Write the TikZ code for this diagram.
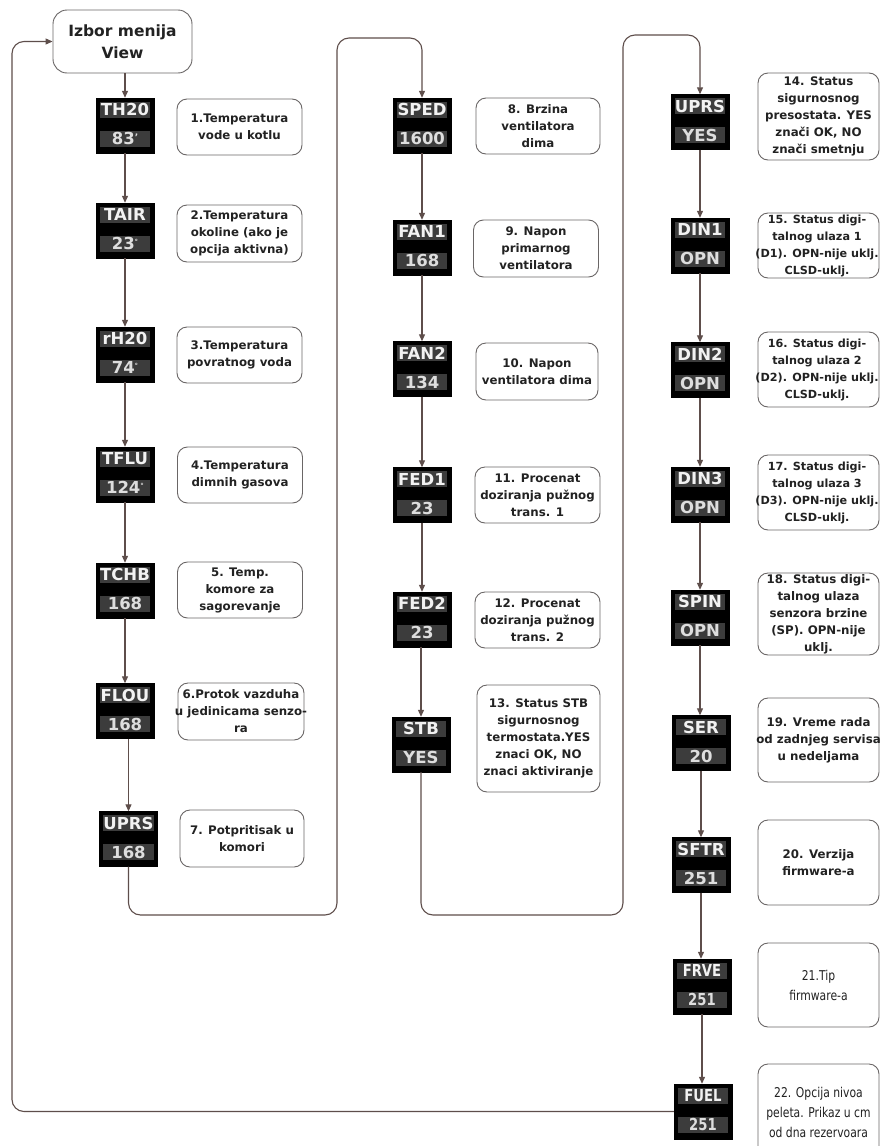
\documentclass[tikz,border=0pt]{standalone}
\usepackage{fontspec}
\setmainfont{DejaVu Sans}
\newfontfamily\condfont{DejaVu Sans}[FakeStretch=0.8]
\usetikzlibrary{arrows.meta}

\definecolor{linec}{HTML}{5E4E4B}
\definecolor{framec}{HTML}{6A6666}
\definecolor{barc}{HTML}{3C3C3C}
\definecolor{labc}{HTML}{F2F2F2}
\definecolor{valc}{HTML}{DEDEDE}
\definecolor{textc}{HTML}{222222}

\tikzset{
  conn/.style={draw=linec, line width=1.1pt, -{Triangle[length=7pt,width=6pt]}},
  dispbox/.style={rectangle, fill=black, draw=black, minimum width=58pt, minimum height=55pt, inner sep=0pt},
  dispbar/.style={fill=barc},
  disptxt/.style={font=\fontsize{16.5}{16.5}\selectfont\bfseries, inner sep=0pt},
  tframe/.style={rectangle, draw=framec, line width=0.9pt, rounded corners=10pt, fill=white, inner sep=0pt},
  ttext/.style={font=\fontsize{11.8}{17}\selectfont\bfseries, text=textc, align=center, inner sep=0pt},
  tighttext/.style={font=\fontsize{11.2}{17}\selectfont\bfseries, xshift=-1.5pt},
  condtext/.style={font=\fontsize{13.5}{20}\selectfont\condfont},
  menubox/.style={rectangle, draw=framec, line width=0.9pt, rounded corners=14pt, fill=white,
    minimum width=139pt, minimum height=63pt, align=center, text=textc,
    font=\fontsize{15.5}{22}\selectfont\bfseries},
}

% display panel: name, x, y, label, value
\newcommand\disp[5]{%
  \node[dispbox] (#1) at (#2,#3) {};
  \fill[dispbar] ([xshift=4pt,yshift=-4pt]#1.north west) rectangle ([xshift=-4pt,yshift=-20pt]#1.north east);
  \fill[dispbar] ([xshift=4pt,yshift=-33pt]#1.north west) rectangle ([xshift=-4pt,yshift=-49pt]#1.north east);
  \node[disptxt, text=labc] (#1-l) at ([yshift=-12pt]#1.north) {#4};
  \node[disptxt, text=valc] (#1-v) at ([yshift=-41pt]#1.north) {#5};
}
% description box: [text style], name, x, y, width, height, text
\newcommand\tbox[7][]{%
  \node[tframe, minimum width=#5pt, minimum height=#6pt] (#2) at (#3,#4) {};
  \node[ttext,#1] (#2-t) at (#2.center) {#7};
}
\newcommand\dgr{\raisebox{5.5pt}{\fontsize{7}{7}\selectfont °}}

\begin{document}
\begin{tikzpicture}[x=1pt, y=-1pt]
\useasboundingbox (0,0) rectangle (880,1146);
\fill[white] (0,0) rectangle (880,1146);

% start of the menu
\node[menubox] (izbor) at (122.5,41.5) {Izbor menija\\View};

% first column of displays
\disp{th20}{125}{125.5}{TH20}{83\raisebox{4pt}{\fontsize{9}{9}\selectfont '}}
\disp{tair}{125}{230.5}{TAIR}{23\dgr}
\disp{rh20}{125}{354.5}{rH20}{74\dgr}
\disp{tflu}{125}{474.5}{TFLU}{124\dgr}
\disp{tchb}{125}{590.5}{TCHB}{168}
\disp{flou}{125}{711}{FLOU}{168}
\disp{uprsa}{128.5}{839}{UPRS}{168}

% second column of displays
\disp{sped}{422}{125.5}{SPED}{1600}
\disp{fana}{422}{247.5}{FAN1}{168}
\disp{fanb}{422}{369}{FAN2}{134}
\disp{feda}{422}{495}{FED1}{23}
\disp{fedb}{422}{619.5}{FED2}{23}
\disp{stb}{421}{744.5}{STB}{YES}

% third column of displays
\disp{uprsb}{700}{122}{UPRS}{YES}
\disp{dina}{700}{245.5}{DIN1}{OPN}
\disp{dinb}{700}{370}{DIN2}{OPN}
\disp{dinc}{700}{494.5}{DIN3}{OPN}
\disp{spin}{700}{617.5}{SPIN}{OPN}
\disp{ser}{701}{743}{SER}{20}
\disp{sftr}{701}{865}{SFTR}{251}
\disp{frve}{702}{986.5}{\condfont FRVE}{\condfont 251}
\disp{fuel}{703}{1111.5}{\condfont FUEL}{\condfont 251}

% descriptions, first column
\tbox{ta}{239.5}{127}{125}{56}{1.Temperatura\\vode u kotlu}
\tbox{tb}{239.5}{233.5}{125}{57}{2.Temperatura\\okoline (ako je\\opcija aktivna)}
\tbox{tc}{239.5}{355}{125}{56}{3.Temperatura\\povratnog voda}
\tbox{td}{240}{475}{125}{56}{4.Temperatura\\dimnih gasova}
\tbox{te}{240}{590}{125}{56}{5. Temp.\\komore za\\sagorevanje}
\tbox{tf}{241}{711.5}{126}{57}{6.Protok vazduha\\u jedinicama senzo-\\ra}
\tbox{tg}{242}{838.5}{124}{57}{7. Potpritisak u\\komori}

% descriptions, second column
\tbox{th}{538}{126}{124}{56}{8. Brzina\\ventilatora\\dima}
\tbox{ti}{536}{248.5}{125}{57}{9. Napon\\primarnog\\ventilatora}
\tbox{tj}{537}{371.5}{122}{57}{10. Napon\\ventilatora dima}
\tbox{tk}{537.5}{495}{125}{56}{11. Procenat\\doziranja pužnog\\trans. 1}
\tbox{tl}{537.5}{620}{125}{56}{12. Procenat\\doziranja pužnog\\trans. 2}
\tbox{tm}{538.5}{738.5}{123}{107}{13. Status STB\\sigurnosnog\\termostata.YES\\znaci OK, NO\\znaci aktiviranje}

% descriptions, third column
\tbox{tn}{818.5}{116.5}{121}{87}{14. Status\\sigurnosnog\\presostata. YES\\znači OK, NO\\znači smetnju}
\tbox[tighttext]{to}{818.5}{245.5}{121}{65}{15. Status digi-\\talnog ulaza 1\\(D1). OPN-nije uklj.\\CLSD-uklj.}
\tbox[tighttext]{tp}{818.5}{369.5}{121}{75}{16. Status digi-\\talnog ulaza 2\\(D2). OPN-nije uklj.\\CLSD-uklj.}
\tbox[tighttext]{tq}{818.5}{492.5}{121}{75}{17. Status digi-\\talnog ulaza 3\\(D3). OPN-nije uklj.\\CLSD-uklj.}
\tbox{tr}{818.5}{614}{121}{82}{18. Status digi-\\talnog ulaza\\senzora brzine\\(SP). OPN-nije\\uklj.}
\tbox{ts}{818.5}{740}{121}{84}{19. Vreme rada\\od zadnjeg servisa\\u nedeljama}
\tbox{tt}{818.5}{862.5}{121}{85}{20. Verzija\\firmware-a}
\tbox[condtext]{tu}{818.5}{985}{121}{84}{21.Tip\\firmware-a}
\tbox[condtext]{tv}{818.5}{1112}{121}{96}{22. Opcija nivoa\\peleta. Prikaz u cm\\od dna rezervoara}

% loop turning points
\coordinate (lab) at (337,915);
\coordinate (lat) at (337,38);
\coordinate (lbb) at (623,915);
\coordinate (lbt) at (623,35);
\coordinate (ret) at (12,600);

% connectors, first column
\draw[conn] (th20.north |- izbor.south) -- (th20.north);
\draw[conn] (th20) -- (tair);
\draw[conn] (tair) -- (rh20);
\draw[conn] (rh20) -- (tflu);
\draw[conn] (tflu) -- (tchb);
\draw[conn] (tchb) -- (flou);
\draw[conn] (uprsa.north |- flou.south) -- (uprsa.north);

% first loop over to the second column
\draw[conn] (uprsa.south) [rounded corners=12pt] |- (lab) -- (lat) -- (sped.north |- lat) [sharp corners] -- (sped.north);

% connectors, second column
\draw[conn] (sped) -- (fana);
\draw[conn] (fana) -- (fanb);
\draw[conn] (fanb) -- (feda);
\draw[conn] (feda) -- (fedb);
\draw[conn] (stb.north |- fedb.south) -- (stb.north);

% second loop over to the third column
\draw[conn] (stb.south) [rounded corners=12pt] |- (lbb) -- (lbt) -- (uprsb.north |- lbt) [sharp corners] -- (uprsb.north);

% connectors, third column
\draw[conn] (uprsb) -- (dina);
\draw[conn] (dina) -- (dinb);
\draw[conn] (dinb) -- (dinc);
\draw[conn] (dinc) -- (spin);
\draw[conn] (spin.south) -- (spin.south |- ser.north);
\draw[conn] (ser.south) -- (ser.south |- sftr.north);
\draw[conn] (sftr.south) -- (sftr.south |- frve.north);
\draw[conn] (frve.south) -- (frve.south |- fuel.north);

% back to the start of the menu
\draw[conn, rounded corners=12pt] (fuel.west) -| (ret) |- (izbor.west);
\end{tikzpicture}
\end{document}
